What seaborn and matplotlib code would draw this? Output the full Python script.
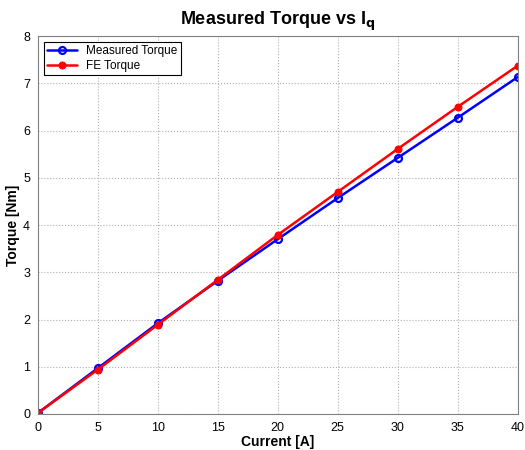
import numpy as np
import pandas as pd
import matplotlib
matplotlib.use("Agg")
import matplotlib.pyplot as plt
import seaborn as sns

current = [0, 5, 10, 15, 20, 25, 30, 35, 40]
measured_torque = [0.02, 0.97, 1.92, 2.82, 3.70, 4.57, 5.42, 6.27, 7.13]
fe_torque = [0.02, 0.94, 1.89, 2.84, 3.79, 4.70, 5.61, 6.50, 7.37]

sns.set_style("whitegrid")
plt.rcParams['font.family'] = ['Liberation Sans', 'DejaVu Sans']
plt.rcParams['text.color'] = 'black'
plt.rcParams['axes.labelcolor'] = 'black'
plt.rcParams['xtick.color'] = 'black'
plt.rcParams['ytick.color'] = 'black'

fig = plt.figure(figsize=(5.25, 4.5), dpi=100)
ax = fig.add_axes([0.072, 0.08, 0.914, 0.84])

sns.lineplot(x=current, y=measured_torque, ax=ax, color='#0000ff', lw=1.8,
             marker='o', markersize=5, markerfacecolor='none',
             markeredgecolor='#0000ff', markeredgewidth=1.6, label='Measured Torque')
sns.lineplot(x=current, y=fe_torque, ax=ax, color='#ff0000', lw=1.8,
             marker='o', markersize=5, markerfacecolor='#ff0000',
             markeredgecolor='#ff0000', label='FE Torque')

ax.set_xlim(0, 40)
ax.set_ylim(0, 8)
ax.set_xticks(range(0, 41, 5))
ax.set_yticks(range(0, 9))
ax.grid(True, linestyle=':', color='#b0b0b0', linewidth=0.8)
for s in ax.spines.values():
    s.set_color('#808080')
    s.set_linewidth(0.8)
ax.tick_params(labelsize=9, pad=2, colors='black')
ax.set_xlabel('Current [A]', fontsize=10, fontweight='bold', labelpad=1)
ax.set_ylabel('Torque [Nm]', fontsize=10, fontweight='bold', labelpad=2)
ax.set_title('Measured Torque vs I$_\\mathbf{q}$', fontsize=13, fontweight='bold', pad=8)

leg = ax.legend(loc='upper left', fontsize=8.5, fancybox=False, framealpha=1,
                edgecolor='black', borderpad=0.3, handlelength=2.5, labelspacing=0.2)
leg.get_frame().set_linewidth(0.8)

fig.savefig('out.png', dpi=100)
